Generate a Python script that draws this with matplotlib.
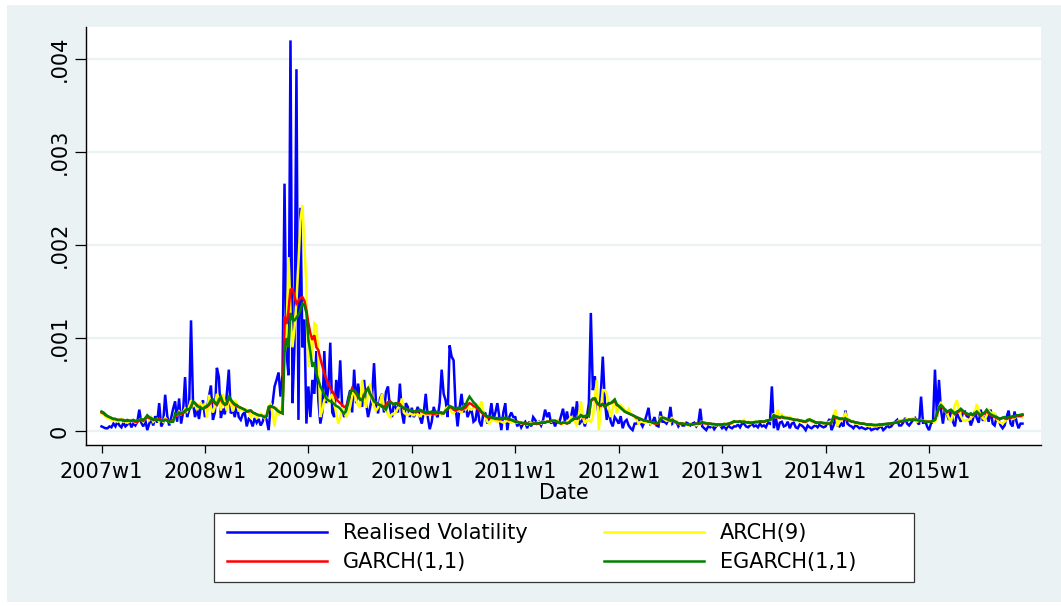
import numpy as np
import matplotlib
matplotlib.use("Agg")
import matplotlib.pyplot as plt
from matplotlib.patches import Rectangle
from matplotlib.lines import Line2D

plt.rcParams['font.family'] = ['DejaVu Sans']

# --- data: weekly values, 2007w1 onward, in units of 0.0001 ---
SCALE = 1e-4

rv = [
    # 2007
    0.5, 0.4, 0.3, 0.3, 0.5, 0.4, 0.8, 0.5, 1.0, 0.6, 0.4, 0.9, 0.5, 0.7, 1.1, 0.4, 0.8, 0.6, 1.0, 2.3,
    0.9, 0.5, 1.2, 0.1, 0.8, 1.3, 0.6, 1.6, 0.9, 3.0, 0.5, 0.9, 3.9, 1.7, 0.6, 1.4, 2.4, 3.2, 1.0, 3.5,
    0.8, 2.0, 5.8, 1.5, 2.2, 11.9, 3.0, 1.5, 2.4, 1.3, 2.8, 3.3,
    # 2008
    1.5, 2.4, 3.7, 4.9, 1.2, 2.0, 6.8, 5.8, 1.4, 2.4, 1.8, 4.0, 6.6, 1.9, 2.3, 1.5, 2.8, 1.5, 1.2, 1.8,
    2.0, 0.5, 1.3, 1.1, 0.5, 1.4, 0.9, 1.3, 0.6, 1.0, 1.7, 1.2, 0.1, 2.5, 3.0, 4.8, 5.5, 6.3, 3.7, 6.0,
    26.6, 8.4, 6.0, 42.0, 3.0, 9.0, 38.9, 1.2, 24.0, 9.0, 12.0, 0.8,
    # 2009
    4.8, 1.5, 5.5, 4.0, 8.6, 3.3, 0.8, 2.0, 8.6, 3.0, 4.5, 9.5, 2.0, 1.5, 5.5, 3.5, 7.6, 2.5, 1.5, 2.5,
    3.5, 4.4, 2.0, 6.6, 3.0, 5.1, 3.5, 2.6, 5.5, 3.0, 1.5, 2.5, 3.7, 7.3, 3.0, 1.9, 3.5, 4.0, 2.0, 4.2,
    4.8, 2.5, 1.5, 3.0, 2.5, 2.0, 5.1, 2.0, 0.8, 3.0, 2.6, 1.5,
    # 2010
    2.5, 1.5, 2.0, 2.6, 1.5, 0.8, 2.0, 4.0, 1.5, 0.2, 1.0, 2.6, 1.8, 1.5, 3.0, 6.6, 4.0, 3.3, 1.5, 9.2,
    8.0, 7.6, 2.6, 0.5, 2.5, 4.0, 2.0, 3.0, 1.5, 2.0, 2.3, 1.0, 1.2, 2.6, 1.0, 0.5, 2.0, 1.9, 0.8, 1.5,
    3.0, 1.2, 2.0, 3.0, 1.5, 0.1, 2.0, 3.0, 0.1, 1.5, 2.0, 1.5,
    # 2011
    1.5, 0.5, 1.0, 0.4, 0.8, 1.0, 0.3, 1.0, 0.5, 1.5, 1.2, 0.8, 1.0, 0.6, 1.2, 2.3, 1.5, 2.0, 0.8, 1.2,
    0.5, 1.2, 0.8, 1.6, 2.4, 1.0, 2.1, 0.8, 1.5, 2.6, 1.2, 3.2, 0.7, 1.0, 1.3, 0.5, 1.5, 3.0, 12.7, 4.4,
    5.9, 3.3, 1.5, 4.0, 8.0, 3.3, 1.2, 2.3, 1.0, 0.5, 1.5, 1.2,
    # 2012
    0.8, 1.6, 0.3, 1.0, 1.2, 0.6, 0.3, 0.1, 0.8, 0.8, 1.2, 0.9, 0.5, 1.0, 1.7, 2.5, 0.8, 1.0, 1.5, 0.6,
    0.5, 2.1, 1.0, 1.0, 0.8, 1.2, 2.6, 0.8, 1.0, 1.0, 0.5, 0.8, 0.6, 0.6, 0.9, 0.8, 0.6, 0.8, 0.9, 0.5,
    0.8, 2.4, 0.5, 0.3, 0.1, 0.5, 0.4, 0.6, 0.2, 0.5, 0.7, 0.6,
    # 2013
    0.3, 0.5, 0.2, 0.6, 0.4, 0.3, 0.5, 0.5, 0.7, 0.4, 0.8, 0.8, 0.5, 0.4, 0.6, 0.8, 0.5, 0.6, 0.4, 0.8,
    0.5, 0.6, 0.4, 0.9, 0.8, 4.8, 0.3, 1.5, 0.1, 0.9, 1.0, 0.5, 0.6, 1.0, 0.3, 0.8, 0.9, 0.4, 0.3, 0.7,
    0.6, 0.4, 0.1, 0.6, 0.4, 0.3, 0.5, 0.6, 0.4, 0.7, 0.5, 0.4,
    # 2014
    0.5, 0.9, 1.3, 0.1, 0.6, 1.4, 0.6, 0.5, 0.8, 0.5, 2.2, 0.8, 0.6, 0.5, 0.3, 0.6, 0.5, 0.3, 0.4, 0.3,
    0.2, 0.3, 0.4, 0.1, 0.2, 0.3, 0.2, 0.4, 0.5, 0.1, 0.3, 0.6, 0.4, 0.5, 0.8, 1.0, 1.2, 0.6, 0.6, 0.9,
    1.4, 0.8, 0.6, 0.9, 1.2, 1.4, 1.0, 0.7, 3.7, 0.8, 1.2, 0.5,
    # 2015
    0.1, 0.8, 1.0, 6.6, 1.5, 5.5, 2.3, 0.8, 2.4, 1.8, 1.2, 2.3, 1.0, 0.5, 1.9, 1.5, 1.0, 2.0, 2.1, 1.6,
    1.5, 0.6, 1.2, 2.1, 1.4, 0.9, 2.3, 1.2, 1.2, 1.9, 1.0, 2.3, 0.8, 0.6, 1.5, 1.2, 0.6, 0.3, 0.6, 1.5,
    2.2, 0.8, 0.5, 2.1, 1.0, 0.3, 0.8, 0.8,
]

arch9 = [
    # 2007
    1.9, 1.8, 1.6, 1.4, 1.3, 1.2, 1.1, 1.2, 1.0, 1.1, 1.3, 1.0, 1.1, 0.9, 1.0, 1.2, 1.1, 0.9, 1.0, 1.2,
    1.3, 1.0, 1.4, 1.6, 1.2, 1.5, 1.0, 1.2, 1.3, 1.0, 1.2, 1.0, 1.4, 1.2, 1.0, 0.9, 1.2, 1.6, 1.7, 2.1,
    1.8, 2.0, 2.4, 2.1, 2.6, 3.3, 2.6, 3.0, 2.4, 2.8, 3.0, 2.5,
    # 2008
    3.0, 1.4, 3.9, 2.5, 2.0, 2.6, 4.0, 3.5, 2.2, 4.0, 3.0, 2.2, 3.3, 3.0, 2.1, 3.3, 3.0, 2.1, 2.5, 2.3,
    2.2, 2.3, 2.0, 1.5, 1.8, 1.9, 1.4, 1.6, 1.9, 1.7, 1.4, 1.9, 2.6, 3.0, 1.8, 0.5, 2.6, 1.7, 2.2, 2.8,
    8.0, 10.5, 18.7, 12.7, 9.0, 11.0, 14.0, 18.0, 22.7, 24.3, 20.0, 15.5,
    # 2009
    6.9, 10.0, 8.0, 11.6, 11.4, 8.4, 1.5, 2.3, 3.3, 3.6, 3.2, 3.5, 4.0, 3.0, 1.9, 0.8, 1.5, 2.6, 2.0, 1.5,
    2.0, 2.6, 3.8, 4.4, 3.3, 2.8, 2.5, 5.5, 3.7, 2.5, 4.0, 5.1, 3.3, 2.6, 2.2, 2.5, 3.0, 4.0, 2.5, 2.2,
    1.8, 1.5, 1.8, 1.9, 2.0, 2.5, 2.6, 3.5, 2.0, 1.8, 1.7, 1.9,
    # 2010
    1.8, 1.7, 1.9, 1.8, 1.6, 1.8, 1.9, 1.7, 1.8, 1.7, 1.9, 1.8, 1.8, 1.9, 2.0, 1.7, 1.9, 2.4, 2.6, 2.4,
    2.0, 1.9, 2.2, 2.3, 2.1, 2.0, 2.6, 2.3, 2.6, 2.4, 2.3, 2.5, 2.6, 2.8, 2.5, 3.2, 2.0, 1.5, 1.0, 0.8,
    1.2, 1.2, 1.1, 1.0, 1.1, 1.0, 0.9, 1.0, 1.1, 1.0, 0.9, 1.0,
    # 2011
    1.0, 0.9, 1.0, 0.8, 0.9, 0.8, 0.7, 0.8, 0.9, 0.8, 0.8, 0.9, 1.0, 0.8, 1.0, 0.9, 1.1, 1.0, 1.0, 1.2,
    1.1, 1.2, 0.9, 0.7, 0.8, 0.9, 1.0, 1.2, 1.5, 1.3, 1.0, 0.5, 1.8, 3.2, 1.5, 0.8, 1.2, 1.2, 1.0, 1.5,
    3.5, 5.5, 0.1, 2.2, 4.4, 4.4, 4.0, 2.5, 1.5, 2.5, 3.3, 1.9,
    # 2012
    2.5, 2.8, 2.6, 2.3, 2.1, 2.4, 1.9, 1.7, 1.5, 1.2, 0.8, 1.0, 1.0, 0.9, 1.0, 1.0, 0.8, 0.9, 0.8, 0.8,
    0.9, 1.5, 1.4, 1.3, 1.1, 1.2, 1.0, 1.5, 0.9, 1.0, 0.8, 0.7, 0.9, 0.8, 0.7, 0.6, 0.8, 0.7, 0.7, 0.6,
    0.7, 0.7, 1.0, 0.9, 0.7, 0.8, 0.7, 0.6, 0.7, 0.6, 0.7, 0.6,
    # 2013
    0.7, 0.8, 0.6, 0.8, 0.9, 0.8, 1.1, 1.0, 0.9, 1.1, 1.0, 1.2, 0.9, 1.0, 0.8, 0.9, 1.0, 1.0, 0.9, 1.1,
    1.0, 0.9, 1.0, 1.2, 1.1, 1.3, 1.9, 1.4, 2.3, 1.3, 1.8, 1.6, 1.5, 1.3, 1.5, 1.2, 1.3, 1.1, 1.2, 1.0,
    1.0, 1.1, 0.9, 1.2, 1.3, 1.0, 1.1, 0.8, 0.9, 1.0, 0.8, 0.9,
    # 2014
    0.8, 0.9, 1.0, 1.1, 1.6, 2.3, 0.5, 1.3, 1.2, 1.5, 1.9, 1.4, 1.2, 1.0, 0.9, 0.8, 0.8, 0.8, 0.75, 0.75,
    0.7, 0.6, 0.5, 0.55, 0.5, 0.5, 0.55, 0.6, 0.6, 0.65, 0.7, 0.75, 0.8, 0.85, 0.9, 0.9, 1.0, 1.1, 1.2, 1.1,
    1.2, 1.3, 1.2, 1.3, 1.4, 1.3, 1.0, 1.1, 1.2, 1.1, 1.2, 1.1,
    # 2015
    1.0, 1.1, 1.0, 1.0, 1.5, 2.6, 3.0, 2.6, 2.2, 1.9, 1.4, 1.0, 1.8, 2.8, 3.3, 2.3, 1.6, 1.2, 1.1, 1.2,
    1.2, 1.4, 1.6, 2.0, 2.9, 2.2, 1.7, 1.4, 1.2, 1.7, 2.2, 2.0, 1.9, 1.9, 1.3, 1.0, 0.9, 0.8, 1.0, 1.2,
    1.4, 1.4, 1.3, 1.4, 1.6, 1.7, 1.6, 1.5,
]

garch = [
    # 2007
    2.0, 1.9, 1.7, 1.6, 1.5, 1.4, 1.3, 1.3, 1.2, 1.2, 1.2, 1.1, 1.1, 1.1, 1.1, 1.1, 1.1, 1.0, 1.0, 1.1,
    1.2, 1.1, 1.3, 1.5, 1.4, 1.3, 1.2, 1.2, 1.2, 1.3, 1.2, 1.1, 1.2, 1.2, 1.1, 1.0, 1.1, 1.5, 1.8, 1.9,
    1.8, 1.9, 2.1, 2.3, 2.3, 2.6, 3.1, 3.0, 2.8, 2.6, 2.5, 2.4,
    # 2008
    2.5, 2.6, 2.8, 3.1, 3.2, 3.0, 2.8, 3.2, 3.5, 3.0, 2.8, 2.9, 3.6, 3.3, 3.0, 2.8, 2.7, 2.6, 2.5, 2.4,
    2.3, 2.1, 2.1, 2.2, 2.0, 1.9, 1.8, 1.7, 1.7, 1.6, 1.5, 1.6, 2.4, 2.6, 2.6, 2.5, 2.3, 2.1, 2.0, 1.9,
    12.3, 11.5, 13.0, 15.2, 15.3, 14.5, 13.7, 14.0, 14.3, 14.4, 14.0, 13.0,
    # 2009
    11.6, 10.5, 9.8, 10.3, 9.0, 8.7, 7.8, 7.0, 6.2, 5.6, 5.1, 4.6, 4.3, 3.9, 3.5, 3.2, 3.0, 2.8, 2.6, 2.6,
    3.2, 4.0, 4.6, 4.3, 4.0, 3.7, 3.4, 3.3, 3.9, 4.3, 4.6, 4.0, 3.7, 3.2, 3.0, 2.9, 2.8, 2.7, 2.6, 2.8,
    3.1, 3.2, 3.0, 2.8, 2.9, 3.0, 2.9, 2.6, 2.4, 2.4, 2.3, 2.2,
    # 2010
    2.2, 2.1, 2.0, 2.1, 2.2, 2.1, 2.0, 1.9, 1.9, 1.9, 1.9, 1.8, 1.9, 1.9, 2.0, 2.0, 1.9, 2.2, 2.3, 2.6,
    2.5, 2.3, 2.2, 2.3, 2.4, 2.3, 2.4, 2.5, 2.8, 3.0, 2.9, 2.7, 2.6, 2.4, 2.2, 2.0, 1.8, 1.6, 1.5, 1.4,
    1.4, 1.4, 1.3, 1.3, 1.25, 1.3, 1.3, 1.35, 1.3, 1.2, 1.2, 1.1,
    # 2011
    1.0, 1.0, 0.9, 0.9, 0.8, 0.8, 0.8, 0.7, 0.7, 0.8, 0.8, 0.8, 0.8, 0.9, 0.9, 0.9, 1.0, 1.0, 1.1, 1.1,
    1.1, 1.0, 0.9, 0.8, 0.9, 0.9, 0.8, 0.9, 1.1, 1.2, 1.4, 1.3, 1.4, 1.7, 1.5, 1.5, 1.7, 1.6, 3.2, 3.4,
    3.5, 3.0, 2.8, 2.7, 2.9, 2.6, 2.8, 2.9, 3.0, 3.1, 3.3, 2.8,
    # 2012
    2.7, 2.5, 2.3, 2.1, 2.0, 1.9, 1.8, 1.7, 1.6, 1.4, 1.4, 1.3, 1.2, 1.1, 1.1, 1.0, 1.0, 0.9, 0.8, 0.8,
    0.8, 1.3, 1.4, 1.4, 1.3, 1.2, 1.1, 1.2, 1.0, 0.9, 0.8, 0.8, 0.8, 0.75, 0.75, 0.7, 0.7, 0.7, 0.75, 0.8,
    0.8, 0.8, 0.9, 0.85, 0.8, 0.8, 0.8, 0.75, 0.75, 0.7, 0.7, 0.7,
    # 2013
    0.7, 0.75, 0.7, 0.75, 0.8, 0.9, 1.0, 1.0, 1.0, 1.0, 0.95, 1.0, 0.95, 0.9, 0.9, 0.9, 0.9, 0.95, 0.95, 1.0,
    1.0, 1.0, 1.1, 1.1, 1.2, 1.3, 1.6, 1.5, 1.5, 1.4, 1.5, 1.4, 1.4, 1.4, 1.3, 1.3, 1.2, 1.2, 1.2, 1.1,
    1.1, 1.0, 1.0, 1.1, 1.2, 1.1, 1.0, 0.9, 0.9, 0.9, 0.9, 0.85,
    # 2014
    0.85, 0.8, 0.8, 0.9, 1.5, 1.4, 1.4, 1.3, 1.3, 1.3, 1.3, 1.2, 1.1, 1.0, 1.0, 0.9, 0.9, 0.85, 0.8, 0.8,
    0.75, 0.7, 0.7, 0.7, 0.65, 0.65, 0.65, 0.7, 0.7, 0.7, 0.75, 0.75, 0.8, 0.8, 0.85, 0.9, 0.9, 1.0, 1.0, 1.1,
    1.1, 1.1, 1.2, 1.2, 1.2, 1.2, 1.2, 1.1, 1.1, 1.1, 1.0, 1.0,
    # 2015
    1.0, 1.0, 1.1, 1.2, 1.8, 2.4, 2.7, 2.5, 2.2, 2.0, 2.1, 2.2, 2.0, 1.8, 2.0, 2.1, 2.3, 2.1, 1.9, 1.8,
    1.7, 1.8, 1.7, 1.8, 2.0, 1.8, 1.6, 1.8, 1.9, 2.2, 1.9, 1.7, 1.6, 1.5, 1.4, 1.3, 1.3, 1.4, 1.4, 1.3,
    1.4, 1.4, 1.5, 1.5, 1.6, 1.6, 1.6, 1.7,
]

egarch = [
    # 2007
    2.1, 2.0, 1.8, 1.6, 1.5, 1.4, 1.3, 1.3, 1.2, 1.2, 1.2, 1.2, 1.1, 1.2, 1.1, 1.1, 1.2, 1.1, 1.1, 1.2,
    1.3, 1.2, 1.4, 1.7, 1.5, 1.4, 1.2, 1.3, 1.2, 1.2, 1.1, 1.1, 1.2, 1.1, 1.0, 1.0, 1.0, 1.9, 1.8, 2.0,
    1.9, 2.0, 2.2, 2.4, 2.3, 2.6, 3.2, 3.0, 2.7, 2.6, 2.5, 2.4,
    # 2008
    2.6, 2.7, 2.9, 3.3, 3.4, 3.1, 2.9, 3.4, 3.7, 3.1, 2.9, 3.0, 3.8, 3.4, 3.1, 2.9, 2.8, 2.6, 2.5, 2.4,
    2.3, 2.1, 2.2, 2.2, 2.0, 1.9, 1.8, 1.7, 1.7, 1.6, 1.5, 1.6, 2.6, 2.7, 2.6, 2.5, 2.3, 2.1, 2.0, 1.9,
    8.4, 10.0, 9.0, 12.7, 12.0, 11.9, 12.2, 12.5, 13.0, 13.7, 13.5, 12.7,
    # 2009
    9.8, 8.5, 6.9, 7.4, 6.2, 5.5, 4.8, 4.4, 3.9, 3.5, 3.3, 3.2, 3.1, 2.9, 2.7, 2.6, 2.4, 2.1, 1.9, 2.2,
    3.0, 4.2, 4.4, 4.3, 4.2, 3.8, 3.4, 3.3, 3.8, 4.3, 4.6, 4.0, 3.6, 3.2, 3.1, 2.9, 2.8, 2.6, 2.5, 2.3,
    2.8, 3.1, 3.0, 2.9, 3.0, 2.9, 2.7, 2.6, 2.5, 2.4, 2.3, 2.2,
    # 2010
    2.2, 2.1, 2.1, 2.2, 2.3, 2.2, 2.1, 2.0, 2.1, 2.0, 2.1, 2.0, 2.1, 2.0, 2.0, 1.9, 1.9, 2.2, 2.4, 2.7,
    2.6, 2.5, 2.4, 2.5, 2.5, 2.4, 2.6, 2.8, 3.3, 3.7, 3.4, 3.1, 2.9, 2.6, 2.4, 2.1, 1.9, 1.7, 1.6, 1.5,
    1.5, 1.4, 1.4, 1.4, 1.35, 1.4, 1.4, 1.45, 1.4, 1.3, 1.2, 1.15,
    # 2011
    1.0, 1.0, 0.9, 0.9, 0.85, 0.8, 0.8, 0.75, 0.75, 0.8, 0.8, 0.85, 0.85, 0.9, 0.9, 0.95, 1.0, 1.0, 1.1, 1.1,
    1.1, 1.0, 0.95, 0.85, 0.9, 0.9, 0.85, 0.9, 1.1, 1.3, 1.4, 1.4, 1.5, 1.7, 1.6, 1.6, 1.7, 1.6, 3.3, 3.5,
    3.5, 3.1, 2.9, 2.8, 2.9, 2.6, 2.8, 3.0, 3.0, 3.2, 3.4, 2.9,
    # 2012
    2.7, 2.5, 2.3, 2.1, 2.0, 1.9, 1.8, 1.7, 1.6, 1.5, 1.4, 1.3, 1.2, 1.15, 1.1, 1.0, 1.0, 0.95, 0.9, 0.85,
    0.85, 1.35, 1.45, 1.4, 1.3, 1.25, 1.15, 1.2, 1.05, 0.95, 0.85, 0.8, 0.8, 0.75, 0.75, 0.7, 0.7, 0.7, 0.75, 0.8,
    0.8, 0.85, 0.95, 0.9, 0.85, 0.8, 0.8, 0.75, 0.75, 0.7, 0.7, 0.7,
    # 2013
    0.7, 0.75, 0.75, 0.8, 0.85, 0.95, 1.05, 1.0, 1.0, 1.05, 1.0, 1.0, 0.95, 0.95, 0.9, 0.9, 0.95, 1.0, 1.0, 1.05,
    1.05, 1.0, 1.1, 1.15, 1.2, 1.4, 1.7, 1.6, 1.55, 1.45, 1.55, 1.45, 1.4, 1.4, 1.35, 1.3, 1.25, 1.2, 1.2, 1.15,
    1.1, 1.05, 1.05, 1.2, 1.25, 1.15, 1.05, 0.95, 0.9, 0.9, 0.9, 0.85,
    # 2014
    0.85, 0.8, 0.8, 0.95, 1.6, 1.5, 1.45, 1.35, 1.35, 1.3, 1.35, 1.25, 1.15, 1.05, 1.0, 0.95, 0.9, 0.85, 0.8, 0.8,
    0.75, 0.7, 0.7, 0.7, 0.65, 0.65, 0.65, 0.7, 0.7, 0.75, 0.75, 0.8, 0.8, 0.85, 0.85, 0.9, 0.95, 1.0, 1.05, 1.1,
    1.15, 1.15, 1.25, 1.2, 1.25, 1.2, 1.2, 1.15, 1.1, 1.1, 1.0, 1.0,
    # 2015
    1.0, 1.0, 1.1, 1.2, 1.9, 2.6, 2.8, 2.6, 2.3, 2.1, 2.2, 2.3, 2.1, 1.9, 2.1, 2.2, 2.4, 2.2, 2.0, 1.9,
    1.8, 1.9, 1.8, 1.9, 2.1, 1.9, 1.7, 1.9, 2.0, 2.3, 2.0, 1.8, 1.7, 1.6, 1.5, 1.4, 1.35, 1.45, 1.5, 1.4,
    1.5, 1.5, 1.6, 1.6, 1.7, 1.7, 1.75, 1.8,
]

years = list(range(2007, 2016))
tick_weeks = [52 * k for k in range(len(years))]
tick_labels = [f"{y}w1" for y in years]
y_ticks = [0, 0.001, 0.002, 0.003, 0.004]
y_labels = ["0", ".001", ".002", ".003", ".004"]

BG = '#EAF2F3'
W, H = 1061, 606


def fx(px):
    return px / W


def fy(py):
    return 1 - py / H


fig = plt.figure(figsize=(W / 100, H / 100), dpi=100)
fig.patch.set_facecolor('white')
fig.patches.append(Rectangle((fx(7), fy(602)), fx(1061) - fx(7), fy(5) - fy(602),
                             transform=fig.transFigure, facecolor=BG, edgecolor='none', zorder=-10))

ax = fig.add_axes([fx(86), fy(445), fx(1041) - fx(86), fy(27) - fy(445)])
ax.set_facecolor('white')
ax.set_zorder(1)

series = [
    (rv, '#0000FF', 'Realised Volatility'),
    (arch9, '#FFFF00', 'ARCH(9)'),
    (garch, '#FF0000', 'GARCH(1,1)'),
    (egarch, '#008000', 'EGARCH(1,1)'),
]
for vals, col, lab in series:
    v = np.array(vals) * SCALE
    ax.plot(np.arange(len(v)), v, color=col, lw=1.8, solid_joinstyle='miter')

ax.set_xlim(-7.8, 472.3)
ax.set_ylim(-0.00015, 0.004344)

ax.set_yticks(y_ticks)
ax.set_yticklabels(y_labels)
ax.set_xticks(tick_weeks)
ax.set_xticklabels(tick_labels)
ax.tick_params(axis='y', length=8, width=0.9, pad=4, labelsize=15, labelrotation=90, colors='black')
ax.tick_params(axis='x', length=6, width=0.9, pad=6, labelsize=15, colors='black')
for lbl in ax.get_yticklabels():
    lbl.set_va('center')

ax.yaxis.grid(True, color=BG, lw=1.6)
ax.set_axisbelow(True)
for s in ['top', 'right']:
    ax.spines[s].set_visible(False)
for s in ['left', 'bottom']:
    ax.spines[s].set_linewidth(1.0)
    ax.spines[s].set_color('black')

ax.set_xlabel('Date', fontsize=15, labelpad=1)

# legend box and entries (Stata-style, below the plot), one legend per column
fig.patches.append(Rectangle((fx(214), fy(582)), fx(914) - fx(214), fy(513) - fy(582),
                             transform=fig.transFigure, facecolor='white', edgecolor='#333333',
                             lw=0.9, zorder=2))
columns = [([0, 2], 227), ([1, 3], 604)]
for idx, x0 in columns:
    handles = [Line2D([], [], color=series[k][1], lw=1.8) for k in idx]
    labels = [series[k][2] for k in idx]
    leg = fig.legend(handles, labels, loc='upper left', bbox_to_anchor=(fx(x0), fy(523)),
                     ncol=1, frameon=False, fontsize=15, handlelength=4.8, handletextpad=0.75,
                     borderpad=0, borderaxespad=0, labelspacing=0.45)
    leg.set_zorder(3)

fig.savefig('out.png', dpi=100, facecolor=fig.get_facecolor())
